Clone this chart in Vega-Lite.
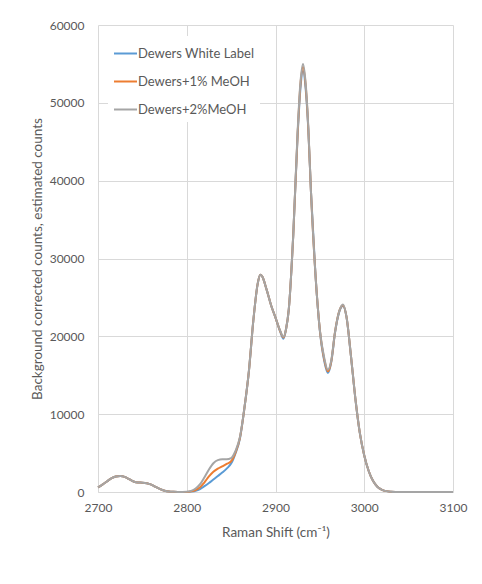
{
  "$schema": "https://vega.github.io/schema/vega-lite/v6.json",
  "width": 355,
  "height": 467,
  "autosize": "none",
  "padding": {"left": 98, "top": 25, "right": 29, "bottom": 92},
  "background": "white",
  "config": {
    "font": "Lato",
    "view": {"stroke": null},
    "axis": {"labelColor": "#595959", "titleColor": "#595959", "labelFont": "Lato", "titleFont": "Lato", "labelFontSize": 12, "titleFontSize": 13.5, "titleFontWeight": "normal", "gridColor": "#D9D9D9", "ticks": false, "domain": false, "labelFlush": false}
  },
  "data": {"values": [
    {"x": 2700, "w": 600, "m1": 600, "m2": 600},
    {"x": 2705, "w": 950, "m1": 950, "m2": 950},
    {"x": 2710, "w": 1350, "m1": 1350, "m2": 1350},
    {"x": 2715, "w": 1750, "m1": 1750, "m2": 1750},
    {"x": 2720, "w": 1980, "m1": 1980, "m2": 1980},
    {"x": 2725, "w": 2050, "m1": 2050, "m2": 2050},
    {"x": 2730, "w": 1950, "m1": 1950, "m2": 1950},
    {"x": 2735, "w": 1650, "m1": 1650, "m2": 1650},
    {"x": 2740, "w": 1350, "m1": 1350, "m2": 1350},
    {"x": 2745, "w": 1220, "m1": 1220, "m2": 1220},
    {"x": 2750, "w": 1200, "m1": 1200, "m2": 1200},
    {"x": 2755, "w": 1130, "m1": 1130, "m2": 1130},
    {"x": 2760, "w": 950, "m1": 950, "m2": 950},
    {"x": 2765, "w": 650, "m1": 650, "m2": 650},
    {"x": 2770, "w": 370, "m1": 370, "m2": 370},
    {"x": 2775, "w": 170, "m1": 170, "m2": 170},
    {"x": 2780, "w": 60, "m1": 60, "m2": 60},
    {"x": 2785, "w": 20, "m1": 20, "m2": 20},
    {"x": 2790, "w": 0, "m1": 0, "m2": 0},
    {"x": 2795, "w": 0, "m1": 0, "m2": 0},
    {"x": 2800, "w": 0, "m1": 10, "m2": 20},
    {"x": 2805, "w": 50, "m1": 80, "m2": 150},
    {"x": 2810, "w": 150, "m1": 250, "m2": 450},
    {"x": 2815, "w": 380, "m1": 600, "m2": 1000},
    {"x": 2820, "w": 750, "m1": 1250, "m2": 1900},
    {"x": 2825, "w": 1150, "m1": 2000, "m2": 2900},
    {"x": 2830, "w": 1600, "m1": 2600, "m2": 3700},
    {"x": 2835, "w": 2050, "m1": 3000, "m2": 4100},
    {"x": 2840, "w": 2500, "m1": 3300, "m2": 4200},
    {"x": 2845, "w": 3000, "m1": 3600, "m2": 4200},
    {"x": 2850, "w": 3650, "m1": 3950, "m2": 4350},
    {"x": 2855, "w": 5000, "m1": 5100, "m2": 5300},
    {"x": 2860, "w": 6900, "m1": 7000, "m2": 7100},
    {"x": 2865, "w": 10800, "m1": 10800, "m2": 10800},
    {"x": 2870, "w": 15500, "m1": 15500, "m2": 15500},
    {"x": 2875, "w": 22000, "m1": 22000, "m2": 22000},
    {"x": 2880, "w": 26800, "m1": 26800, "m2": 26800},
    {"x": 2883, "w": 27900, "m1": 27900, "m2": 27900},
    {"x": 2885, "w": 27700, "m1": 27700, "m2": 27700},
    {"x": 2890, "w": 26000, "m1": 26000, "m2": 26000},
    {"x": 2895, "w": 24000, "m1": 24000, "m2": 24000},
    {"x": 2900, "w": 22400, "m1": 22400, "m2": 22400},
    {"x": 2905, "w": 20700, "m1": 20750, "m2": 20800},
    {"x": 2909, "w": 19700, "m1": 19850, "m2": 19950},
    {"x": 2912, "w": 21000, "m1": 21000, "m2": 21000},
    {"x": 2915, "w": 23500, "m1": 23500, "m2": 23500},
    {"x": 2920, "w": 33000, "m1": 33000, "m2": 33000},
    {"x": 2925, "w": 46000, "m1": 46200, "m2": 46500},
    {"x": 2928, "w": 51700, "m1": 52200, "m2": 52500},
    {"x": 2931, "w": 54100, "m1": 54600, "m2": 55000},
    {"x": 2934, "w": 51800, "m1": 52200, "m2": 52500},
    {"x": 2937, "w": 46500, "m1": 46600, "m2": 46800},
    {"x": 2940, "w": 38500, "m1": 38500, "m2": 38500},
    {"x": 2945, "w": 28000, "m1": 28000, "m2": 28000},
    {"x": 2950, "w": 20700, "m1": 20800, "m2": 20800},
    {"x": 2955, "w": 16800, "m1": 17000, "m2": 17200},
    {"x": 2959, "w": 15300, "m1": 15500, "m2": 15700},
    {"x": 2963, "w": 16800, "m1": 16900, "m2": 17000},
    {"x": 2967, "w": 20400, "m1": 20500, "m2": 20500},
    {"x": 2972, "w": 23200, "m1": 23300, "m2": 23300},
    {"x": 2976, "w": 23900, "m1": 24000, "m2": 24100},
    {"x": 2980, "w": 22500, "m1": 22500, "m2": 22500},
    {"x": 2985, "w": 17500, "m1": 17500, "m2": 17500},
    {"x": 2990, "w": 12000, "m1": 12000, "m2": 12000},
    {"x": 2995, "w": 7600, "m1": 7600, "m2": 7600},
    {"x": 3000, "w": 4700, "m1": 4700, "m2": 4700},
    {"x": 3005, "w": 2700, "m1": 2700, "m2": 2700},
    {"x": 3010, "w": 1400, "m1": 1400, "m2": 1400},
    {"x": 3015, "w": 650, "m1": 650, "m2": 650},
    {"x": 3020, "w": 280, "m1": 280, "m2": 280},
    {"x": 3025, "w": 110, "m1": 110, "m2": 110},
    {"x": 3030, "w": 40, "m1": 40, "m2": 40},
    {"x": 3035, "w": 10, "m1": 10, "m2": 10},
    {"x": 3040, "w": 0, "m1": 0, "m2": 0},
    {"x": 3050, "w": 0, "m1": 0, "m2": 0},
    {"x": 3060, "w": 0, "m1": 0, "m2": 0},
    {"x": 3070, "w": 0, "m1": 0, "m2": 0},
    {"x": 3080, "w": 0, "m1": 0, "m2": 0},
    {"x": 3090, "w": 0, "m1": 0, "m2": 0},
    {"x": 3100, "w": 0, "m1": 0, "m2": 0}
  ]},
  "transform": [
    {"fold": ["w", "m1", "m2"], "as": ["key", "counts"]},
    {"lookup": "key", "from": {"data": {"values": [
      {"key": "w", "series": "Dewers White Label", "ord": 0},
      {"key": "m1", "series": "Dewers+1% MeOH", "ord": 1},
      {"key": "m2", "series": "Dewers+2%MeOH", "ord": 2}
    ]}, "key": "key", "fields": ["series", "ord"]}}
  ],
  "mark": {"type": "line", "interpolate": "monotone", "strokeWidth": 2},
  "encoding": {
    "x": {"field": "x", "type": "quantitative", "scale": {"domain": [2700, 3100], "nice": false},
      "axis": {"values": [2700, 2800, 2900, 3000, 3100], "title": "Raman Shift (cm⁻¹)", "labelPadding": 10, "titlePadding": 12, "domain": true, "domainColor": "#D9D9D9", "format": "d"}},
    "y": {"field": "counts", "type": "quantitative", "scale": {"domain": [0, 60000], "nice": false},
      "axis": {"values": [0, 10000, 20000, 30000, 40000, 50000, 60000], "format": "d", "title": "Background corrected counts, estimated counts", "labelPadding": 14, "titlePadding": 5}},
    "color": {"field": "series", "type": "nominal",
      "scale": {"domain": ["Dewers White Label", "Dewers+1% MeOH", "Dewers+2%MeOH"], "range": ["#5B9BD5", "#ED7D31", "#A5A5A5"]},
      "legend": {"title": null, "orient": "none", "legendX": 10, "legendY": 11, "symbolType": "stroke", "symbolSize": 529, "symbolStrokeWidth": 2, "labelFontSize": 13, "labelColor": "#595959", "labelFont": "Lato", "rowPadding": 8, "padding": 5, "fillColor": "white", "labelOffset": 0}},
    "order": {"field": "ord", "type": "quantitative"}
  }
}
